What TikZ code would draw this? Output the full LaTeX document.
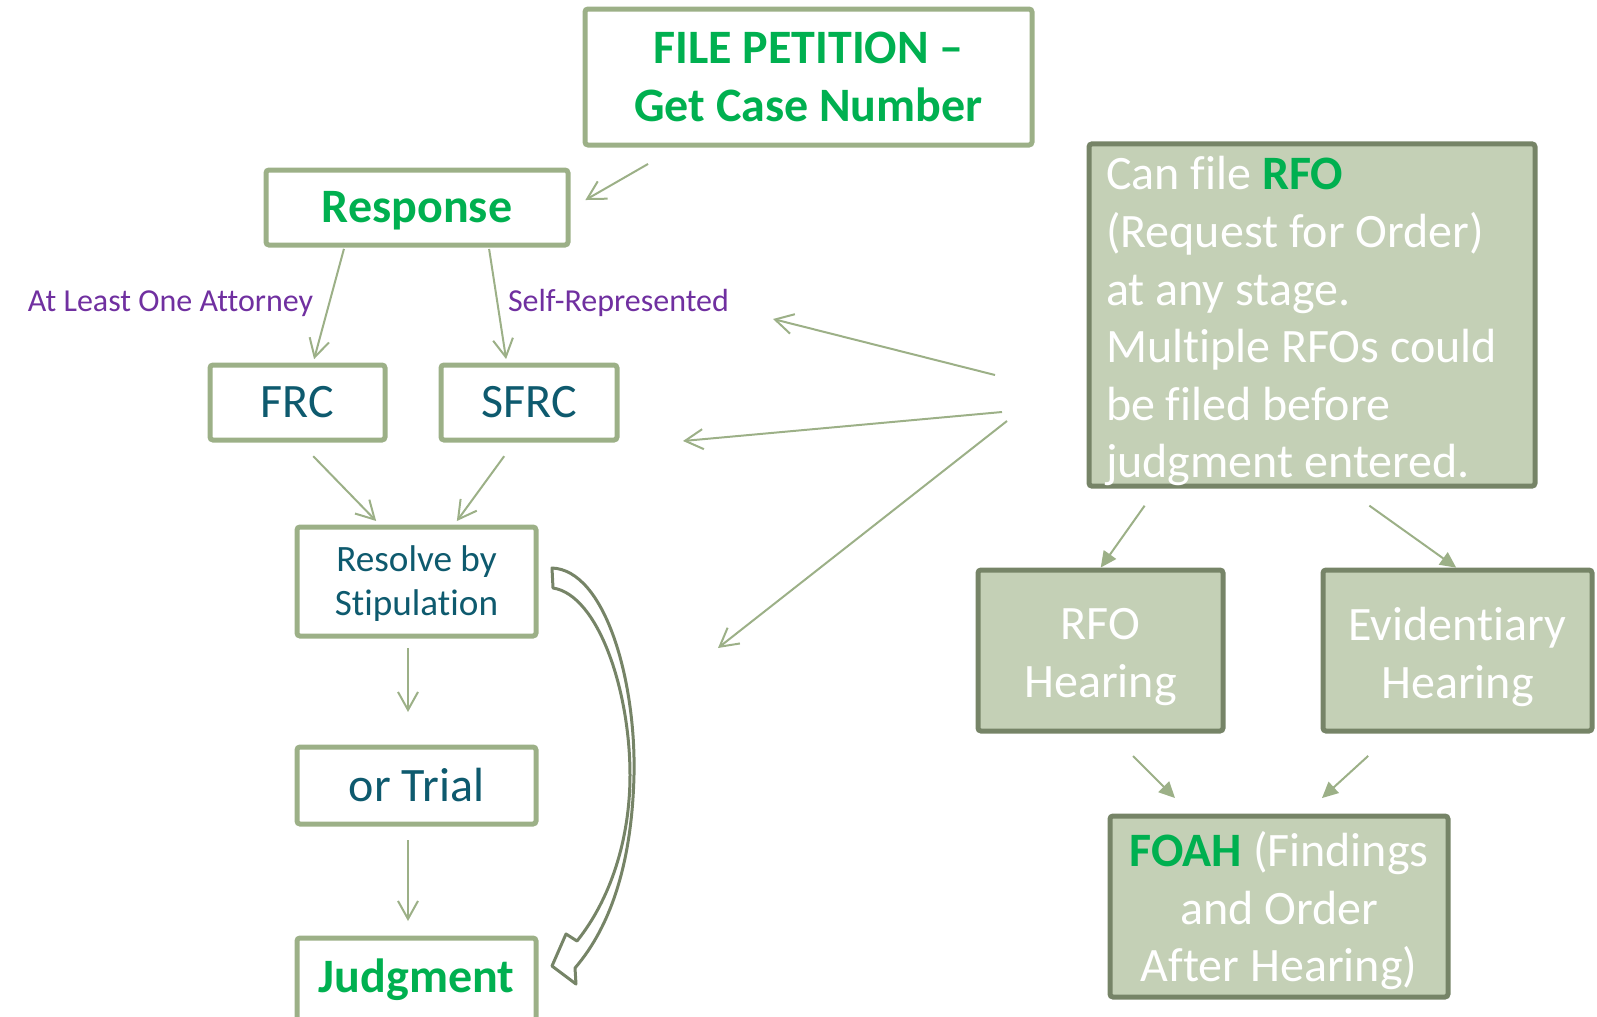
\documentclass[tikz,border=0pt]{standalone}
\usepackage{fontspec}
\setmainfont{Carlito}[Ligatures={NoCommon}]
\usetikzlibrary{arrows.meta}

\definecolor{boxline}{HTML}{9CB087}
\definecolor{boxfill}{HTML}{C4D0B6}
\definecolor{boxdark}{HTML}{768467}
\definecolor{stepgreen}{HTML}{00B050}
\definecolor{steptext}{HTML}{0E5A6E}
\definecolor{notepurple}{HTML}{7030A0}

\begin{document}
\begin{tikzpicture}[x=0.5pt, y=-0.5pt, inner sep=0, outer sep=0,
  stage/.style={rectangle, draw=boxline, line width=2.5pt, rounded corners=1.5pt,
    fill=white, text=steptext, align=center, font=\fontsize{24}{28.8}\selectfont},
  keytext/.style={text=stepgreen, font=\fontsize{24}{28.8}\selectfont\bfseries},
  rfobox/.style={rectangle, draw=boxdark, line width=2.5pt, rounded corners=1.5pt,
    fill=boxfill, text=white, align=center, font=\fontsize{24}{28.8}\selectfont},
  pathlabel/.style={text=notepurple, font=\fontsize{16}{19}\selectfont},
  arr/.style={draw=boxline, line width=1pt, -{Straight Barb[length=9pt,width=10pt]}},
  farr/.style={draw=boxline, line width=1pt, -{Triangle[length=8pt,width=7.5pt]}}]
  \useasboundingbox (0,0) rectangle (1597,1017);

  % left column
  \node[stage, keytext, minimum width=223.5pt, minimum height=68pt] (petition) at (808.5,77) {FILE PETITION \textendash\\Get Case Number};
  \node[stage, keytext, minimum width=151pt, minimum height=37.5pt, text depth=0.5pt] (response) at (417,207.5) {Response};
  \node[stage, minimum width=87.5pt, minimum height=37.5pt] (frc) at (297.5,402.5) {FRC};
  \node[stage, minimum width=88pt, minimum height=37.5pt] (sfrc) at (529,402.5) {SFRC};
  \node[stage, minimum width=119.5pt, minimum height=54.5pt, font=\fontsize{18.6}{22}\selectfont] (resolve) at (416.5,581.5) {\rule{0pt}{15pt}Resolve by\\Stipulation};
  \node[stage, minimum width=119.5pt, minimum height=38.5pt] (trial) at (416.5,785.5) {or Trial};
  \node[stage, keytext, minimum width=119.5pt, minimum height=42pt] (judgment) at (416.5,980) {Judgment};

  \node[pathlabel, anchor=base east] (lblatty) at (313,311) {At Least One Attorney};
  \node[pathlabel, anchor=base west] (lblself) at (508,311) {Self-Represented};

  \draw[arr, shorten <=19pt, shorten >=10pt] ([xshift=-63.75pt]petition.south) -- ([yshift=-1.25pt]response.east);
  \draw[arr, shorten <=2pt, shorten >=3pt] ([xshift=-36pt]response.south) -- ([xshift=7.5pt]frc.north);
  \draw[arr, shorten <=2pt, shorten >=3pt] ([xshift=35.75pt]response.south) -- ([xshift=-11pt]sfrc.north);
  \draw[arr, shorten <=11.3pt, shorten >=4.2pt] (frc.south) -- ([xshift=-17.25pt]resolve.north);
  \draw[arr, shorten <=10pt, shorten >=3.7pt] ([xshift=-6.5pt]sfrc.south) -- ([xshift=18pt]resolve.north);
  \draw[arr, shorten <=6pt, shorten >=17.5pt] ([xshift=-4.25pt]resolve.south) -- ([xshift=-4.25pt]trial.north);
  \draw[arr, shorten <=8pt, shorten >=8.5pt] ([xshift=-4.25pt]trial.south) -- ([xshift=-4.25pt]judgment.north);

  % skip to judgment
  \draw[boxdark, line width=1.5pt, line join=round] (552,568) .. controls (605,570) and (636,680) .. (634,775)
    .. controls (632,860) and (612,925) .. (575,968) -- (576,984) -- (552,966) -- (566,934) -- (577,941)
    .. controls (610,900) and (630,840) .. (630,775) .. controls (630,690) and (598,595) .. (553,588) -- cycle;

  % right column
  \node[rfobox, minimum height=168pt, text width=206pt, inner xsep=8.5pt, align=flush left] (rfo) at (1312,315)
    {\rule{0pt}{23pt}Can file \textcolor{stepgreen}{\bfseries RFO}\\(Request for Order)\\at any stage.\\Multiple RFOs could\\be filed before\\judgment entered.};
  \node[rfobox, minimum width=122.5pt, minimum height=80.5pt] (rfohear) at (1100.5,650.5) {\rule{0pt}{22pt}RFO\\Hearing};
  \node[rfobox, minimum width=134.5pt, minimum height=80.5pt] (evid) at (1457.5,650.5) {\rule{0pt}{23pt}Evidentiary\\Hearing};
  \node[rfobox, minimum width=169pt, minimum height=90.5pt] (foah) at (1279,906.5)
    {\rule{0pt}{22pt}\textcolor{stepgreen}{\bfseries FOAH} (Findings\\and Order\\After Hearing)};

  \coordinate (tgtlabel) at (773,319);
  \coordinate (tgtsfrc) at (683,441);
  \coordinate (tgtstage) at (718,648);
  \draw[arr] ([xshift=-47pt,yshift=-30pt]rfo.west) -- (tgtlabel);
  \draw[arr] ([xshift=-43.5pt,yshift=-48.5pt]rfo.west) -- (tgtsfrc);
  \draw[arr] ([xshift=-41pt,yshift=-53pt]rfo.west) -- (tgtstage);

  \draw[farr, shorten <=12pt, shorten >=1.5pt] ([xshift=-76.75pt]rfo.south) -- ([xshift=-0.75pt]rfohear.north);
  \draw[farr, shorten <=16.8pt, shorten >=2pt] ([xshift=15pt]rfo.south) -- ([xshift=1pt]evid.north);
  \draw[farr, shorten <=17.7pt, shorten >=12.7pt] ([xshift=3.75pt]rfohear.south) -- ([xshift=-43pt]foah.north);
  \draw[farr, shorten <=18.5pt, shorten >=13.3pt] ([xshift=-31pt]evid.south) -- ([xshift=11.65pt]foah.north);
\end{tikzpicture}
\end{document}
